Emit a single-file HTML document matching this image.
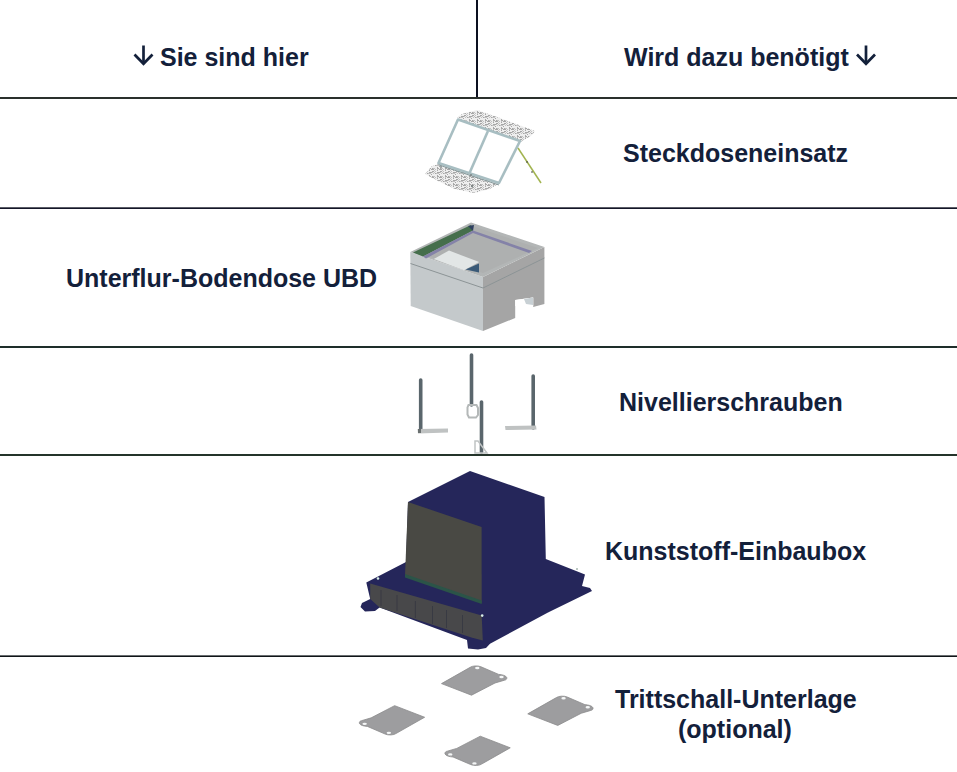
<!DOCTYPE html>
<html><head><meta charset="utf-8">
<style>
html,body{margin:0;padding:0;background:#fff;}
body{width:957px;height:772px;position:relative;overflow:hidden;font-family:"Liberation Sans",sans-serif;}
.t{position:absolute;font-weight:bold;font-size:25px;color:#13203a;white-space:nowrap;line-height:30px;}
.h{position:absolute;left:0;width:957px;height:2px;background:#1f2624;}
.v{position:absolute;top:0;left:476px;width:1.5px;height:98px;background:#0c1020;}
svg{position:absolute;left:0;top:0;}
</style></head><body>
<div class="v"></div>
<div class="h" style="top:97px;background:#2a302c"></div>
<div class="h" style="top:207px;background:linear-gradient(#5a5c66 0 50%,#141628 50% 100%)"></div>
<div class="h" style="top:346px;background:#1e2e2a"></div>
<div class="h" style="top:454px;background:#24342a"></div>
<div class="h" style="top:655px;background:linear-gradient(#6a6e70 0 50%,#101418 50% 100%)"></div>

<div class="t" id="t1" style="left:160px;top:42px">Sie sind hier</div>
<div class="t" id="t2" style="left:624px;top:42px">Wird dazu benötigt</div>
<div class="t" id="t3" style="left:623px;top:138px">Steckdoseneinsatz</div>
<div class="t" id="t4" style="left:66px;top:263px">Unterflur-Bodendose UBD</div>
<div class="t" id="t5" style="left:619px;top:387px">Nivellierschrauben</div>
<div class="t" id="t6" style="left:605px;top:536px">Kunststoff-Einbaubox</div>
<div class="t" id="t7" style="left:615px;top:684px">Trittschall-Unterlage</div>
<div class="t" id="t8" style="left:678px;top:714px">(optional)</div>

<svg width="957" height="772" viewBox="0 0 957 772">

  <!-- Steckdoseneinsatz -->
  <defs>
    <pattern id="hatch" width="8" height="8" patternUnits="userSpaceOnUse">
      <rect width="8" height="8" fill="#eeeeee"/>
      <rect x="0" y="0" width="1" height="1" fill="#a6a6a6"/><rect x="1" y="0" width="1" height="1" fill="#c2c2c2"/><rect x="2" y="0" width="1" height="1" fill="#c2c2c2"/><rect x="5" y="0" width="1" height="1" fill="#a6a6a6"/><rect x="6" y="0" width="1" height="1" fill="#a6a6a6"/><rect x="0" y="1" width="1" height="1" fill="#a6a6a6"/><rect x="1" y="1" width="1" height="1" fill="#a6a6a6"/><rect x="3" y="1" width="1" height="1" fill="#c2c2c2"/><rect x="5" y="1" width="1" height="1" fill="#c2c2c2"/><rect x="7" y="1" width="1" height="1" fill="#a6a6a6"/><rect x="2" y="2" width="1" height="1" fill="#c2c2c2"/><rect x="5" y="2" width="1" height="1" fill="#a6a6a6"/><rect x="0" y="3" width="1" height="1" fill="#a6a6a6"/><rect x="1" y="3" width="1" height="1" fill="#a6a6a6"/><rect x="3" y="3" width="1" height="1" fill="#c2c2c2"/><rect x="0" y="4" width="1" height="1" fill="#c2c2c2"/><rect x="2" y="4" width="1" height="1" fill="#c2c2c2"/><rect x="5" y="4" width="1" height="1" fill="#a6a6a6"/><rect x="6" y="4" width="1" height="1" fill="#a6a6a6"/><rect x="7" y="4" width="1" height="1" fill="#a6a6a6"/><rect x="1" y="5" width="1" height="1" fill="#c2c2c2"/><rect x="3" y="5" width="1" height="1" fill="#a6a6a6"/><rect x="4" y="5" width="1" height="1" fill="#c2c2c2"/><rect x="5" y="5" width="1" height="1" fill="#c2c2c2"/><rect x="6" y="5" width="1" height="1" fill="#c2c2c2"/><rect x="7" y="6" width="1" height="1" fill="#a6a6a6"/><rect x="5" y="7" width="1" height="1" fill="#a6a6a6"/>
    </pattern>
  </defs>
  <g id="img1">
    <polygon points="457,118 462,114 477,110 500,118 535,131 532,135 521,142 490,131" fill="url(#hatch)"/>
    <polygon points="425,174 432,166 439,164 470,174 498,184 490,189 474,193 455,189 440,182" fill="url(#hatch)"/>
    <g fill="none" stroke="#a8bec2" stroke-width="2.6" stroke-linejoin="round">
      <polygon points="458,119.5 520,141 499,183 438.5,163"/>
      <line x1="488" y1="131" x2="469.5" y2="173"/>
    </g>
    <line x1="439" y1="165" x2="499" y2="185" stroke="#8a9c9e" stroke-width="1"/>
    <line x1="518" y1="148" x2="541" y2="183" stroke="#a2b450" stroke-width="1.5"/>
    <g fill="#7c8484"><circle cx="471" cy="175" r="1"/><circle cx="472" cy="186" r="1.2"/><circle cx="441" cy="167" r="0.9"/><circle cx="527" cy="162" r="0.8" fill="#333"/><circle cx="532" cy="172" r="0.8" fill="#333"/></g>
  </g>
  <!-- UBD -->
  <g id="img2">
    <polygon points="483,277 544.4,247 544.4,304 533.2,307 533.2,297.6 515.2,300 515.2,318 483,331" fill="#a5a5a5"/>
    <polygon points="410.3,252 483,277 483,331 410.7,306" fill="#c4c9cb"/>
    <polygon points="410.3,252 471,222.5 544.4,247 483,277" fill="#b3b6b6"/>
    <polygon points="414,252 471,225.5 538,248 483,273" fill="#aeb0b0"/>
    <polygon points="413,252.5 471,225 473,230.5 423,256.5" fill="#456e4c"/>
    <polygon points="468,226 474,225 473,231" fill="#2f4060"/>
    <polygon points="423,256.5 473,230.5 532,251 529,253 473,233 426,258.5" fill="#8482a8"/>
    <polygon points="433.8,258.9 449,250.6 479.2,262 464,270.3" fill="#e2e6e6"/>
    <polygon points="465.6,269.5 479,263.5 479,272.5" fill="#3a5a78"/>
    <polyline points="410.5,263.5 483,288 544.4,258" fill="none" stroke="#8c9496" stroke-width="1"/>
    <polygon points="515.2,300 533.2,297.6 533.2,306 515.2,306" fill="#ffffff"/>
    <polygon points="524,299 533,297.6 533,305 526,304" fill="#c8d0d4"/>
  </g>
  <!-- screws -->
  <g id="img3" stroke-linecap="round">
    <line x1="420.7" y1="380" x2="420.7" y2="430" stroke="#5a666c" stroke-width="3.6"/>
    <polygon points="417.5,429 448,428.5 448,432.5 418,433.5" fill="#bfc2c2"/>
    <rect x="418" y="429" width="3" height="4" fill="#6a7070"/>
    <line x1="471.5" y1="355" x2="471.5" y2="405" stroke="#5a666c" stroke-width="3.6"/>
    <path d="M468.5 405 h8 l1.5 3 v7 l-2 2.5 h-7 l-1.5 -3 v-7 z" fill="none" stroke="#b4b8b8" stroke-width="2"/>
    <line x1="481.5" y1="402" x2="481.5" y2="452" stroke="#5a666c" stroke-width="3.6"/>
    <path d="M475 441 l3 0 l9 12 l-12 0 z" fill="none" stroke="#c0c4c4" stroke-width="1.5"/>
    <line x1="533.2" y1="376" x2="533.2" y2="428" stroke="#5a666c" stroke-width="3.6"/>
    <polygon points="505,426 536,425.5 536.5,429.5 505.5,430" fill="#bfc2c2"/>
  </g>
  <!-- Einbaubox -->
  <g id="img4">
    <polygon points="366.3,582.6 406,562 408,502 470,471 544.5,497 545.8,559 585,574.6 582,586 590,588 592,591 548,612.5 490,643.8 486,648 478,649.5 468,648.5 467,640 379.6,607.6 375,611 365,611.5 360.5,607 362,603 370.2,599" fill="#25265a"/>
    <polygon points="408,502 481.6,527 481.7,603 405,576" fill="#494944"/>
    <polygon points="405,574 481.7,600.5 481.7,604 405,577.5" fill="#2b5448"/>
    <polygon points="370.2,583.6 481.7,615.6 482.8,640.5 471.4,637.4 379.6,607.6 370.2,599" fill="#48484a"/>
    <g stroke="#2a2c3c" stroke-width="0.8" opacity="0.6">
      <line x1="381" y1="590" x2="381" y2="606"/>
      <line x1="397" y1="595" x2="397" y2="611"/>
      <line x1="415.4" y1="601" x2="415.4" y2="618"/>
      <line x1="432.5" y1="606" x2="432.5" y2="624"/>
      <line x1="446.5" y1="610" x2="446.5" y2="628"/>
      <line x1="462.5" y1="615" x2="462.5" y2="633"/>
    </g>
    <circle cx="378" cy="578.5" r="1.3" fill="#d8eee8"/>
    <circle cx="482.2" cy="615.6" r="1.3" fill="#d8eee8"/>
    <circle cx="577" cy="569" r="1" fill="#a8b8b0"/>
  </g>
  <!-- pads -->
  <defs>
    <g id="pad">
      <path d="M441.5,683.6 L470.2,667.3 C472,665.8 478,665.3 481,666.8 L498.7,674.4 C502,674.6 506,675.5 506.8,677.6 C507,679 506,680 504.5,680.2 L495,683 L471.5,695.2 Z" fill="#9d9d9f" stroke="#8a8a8c" stroke-width="0.8"/>
      <ellipse cx="477.3" cy="668" rx="2.2" ry="1.2" fill="#f4f6f6"/>
      <ellipse cx="501.5" cy="677" rx="2.2" ry="1.2" fill="#f4f6f6"/>
    </g>
  </defs>
  <use href="#pad"/>
  <use href="#pad" transform="translate(86.25 30.25)"/>
  <use href="#pad" transform="translate(-81.55 40.45) rotate(180 473.85 680.2)"/>
  <use href="#pad" transform="translate(4.05 71) rotate(180 473.85 680.2)"/>
  <!-- arrows -->
  <g stroke="#13203a" stroke-width="2.7" fill="none" stroke-linecap="butt" stroke-linejoin="miter">
    <path d="M143.5 45.5 V63"/>
    <path d="M134.5 54.5 L143.5 63.8 L152.5 54.5"/>
    <path d="M866 45.5 V63"/>
    <path d="M857 54.5 L866 63.8 L875 54.5"/>
  </g>
</svg>
</body></html>
